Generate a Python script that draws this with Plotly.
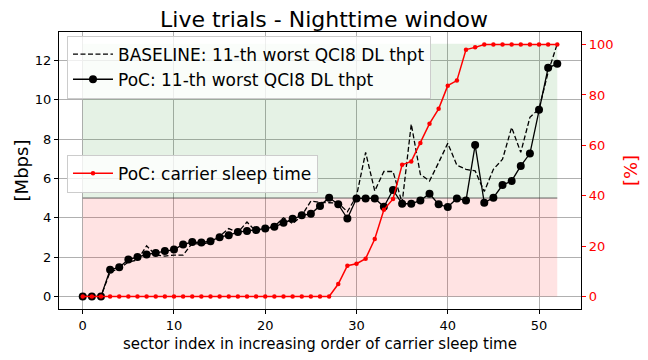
import plotly.graph_objects as go

# sector index (sorted by carrier sleep time)
sector = list(range(53))

# 11-th worst QCI8 DL throughput [Mbps]
baseline_thpt = [0, 0, 0, 1.25, 1.4, 1.75, 1.85, 2.57, 2.1, 2.05,
                 2.1, 2.1, 2.7, 2.65, 2.75, 3.05, 3.45, 3.25, 3.78, 3.3,
                 3.5, 3.55, 4.0, 3.7, 4.1, 4.85, 4.78, 4.76, 4.75, 4.3,
                 5.1, 7.32, 5.36, 6.35, 6.35, 4.75, 8.76, 6.2, 5.87, 6.8,
                 7.78, 6.67, 6.46, 6.38, 5.33, 6.46, 6.97, 8.59, 7.32, 9.1,
                 9.53, 11.4, 12.84]
poc_thpt = [0, 0, 0, 1.35, 1.48, 1.87, 2.0, 2.13, 2.21, 2.31,
            2.38, 2.64, 2.76, 2.74, 2.81, 3.01, 3.11, 3.27, 3.32, 3.37,
            3.45, 3.54, 3.74, 3.95, 4.12, 4.2, 4.59, 5.02, 4.68, 3.96,
            4.98, 4.98, 4.98, 4.56, 5.41, 4.71, 4.71, 4.88, 5.22, 4.68,
            4.54, 4.98, 4.88, 7.69, 4.76, 5.02, 5.66, 5.87, 6.63, 7.26,
            9.49, 11.62, 11.82]

# carrier sleep time [%]
sleep_time = [0] * 28 + [4.9, 12.2, 13.0, 15.0, 22.8, 34.4, 38.7, 52.3,
                         53.6, 60.9, 68.6, 74.5, 83.7, 85.7, 98.0, 98.9] + [100] * 9

threshold = 5  # Mbps

FONT = "DejaVu Sans"

fig = go.Figure()

# shaded bands: below / above the threshold
fig.add_trace(go.Scatter(x=sector, y=[0] * len(sector), mode="lines",
                         line=dict(width=0), showlegend=False, hoverinfo="skip"))
fig.add_trace(go.Scatter(x=sector, y=[threshold] * len(sector), mode="lines",
                         fill="tonexty", fillcolor="rgba(255,0,0,0.11)",
                         line=dict(color="rgba(60,60,60,0.8)", width=1),
                         showlegend=False, hoverinfo="skip"))
fig.add_trace(go.Scatter(x=sector, y=[max(baseline_thpt)] * len(sector), mode="lines",
                         fill="tonexty", fillcolor="rgba(0,128,0,0.1)",
                         line=dict(width=0), showlegend=False, hoverinfo="skip"))

fig.add_trace(go.Scatter(x=sector, y=baseline_thpt, mode="lines",
                         name="BASELINE: 11-th worst QCI8 DL thpt",
                         line=dict(color="black", width=1.3, dash="5px,2.5px"),
                         legend="legend"))
fig.add_trace(go.Scatter(x=sector, y=poc_thpt, mode="lines+markers",
                         name="PoC: 11-th worst QCI8 DL thpt",
                         line=dict(color="black", width=1.3),
                         marker=dict(color="black", size=8),
                         legend="legend"))
fig.add_trace(go.Scatter(x=sector, y=sleep_time, mode="lines+markers",
                         name="PoC: carrier sleep time", yaxis="y2",
                         line=dict(color="red", width=1.5),
                         marker=dict(color="red", size=4.5),
                         legend="legend2"))

# the page body adds an 8px offset, so the figure is 8px smaller than the window
fig.update_layout(
    width=640, height=352,
    margin=dict(l=51, r=67, t=24, b=51),
    plot_bgcolor="white", paper_bgcolor="white",
    font=dict(family=FONT, color="black", size=13),
    title=dict(text="Live trials - Nighttime window", x=0.4938, xanchor="center",
               y=0.969, yanchor="middle", font=dict(size=22)),
    xaxis=dict(range=[-2.6, 54.6], tickvals=[0, 10, 20, 30, 40, 50],
               showgrid=True, gridcolor="#b0b0b0", gridwidth=0.8,
               showline=True, linecolor="black", linewidth=1.2, mirror=True,
               ticks="outside", ticklen=4, tickcolor="black", zeroline=False,
               automargin=False,
               title=dict(text="sector index in increasing order of carrier sleep time",
                          font=dict(size=15), standoff=6),
               tickfont=dict(size=13)),
    yaxis=dict(range=[-0.64, 13.44], tickvals=[0, 2, 4, 6, 8, 10, 12],
               showgrid=True, gridcolor="#b0b0b0", gridwidth=0.8,
               showline=True, linecolor="black", linewidth=1.2,
               ticks="outside", ticklen=4, tickcolor="black", zeroline=False,
               automargin=False,
               title=dict(text="[Mbps]", font=dict(size=18), standoff=1),
               tickfont=dict(size=13)),
    yaxis2=dict(range=[-5, 105], tickvals=[0, 20, 40, 60, 80, 100],
                overlaying="y", side="right", showgrid=False, zeroline=False,
                showline=True, linecolor="black", linewidth=1.2,
                ticks="outside", ticklen=4, tickcolor="red", automargin=False,
                tickfont=dict(size=13, color="red"),
                title=dict(text="[%]", font=dict(size=18, color="red"), standoff=11)),
    legend=dict(x=0.0153, y=0.987, xanchor="left", yanchor="top",
                traceorder="normal",
                bgcolor="rgba(255,255,255,0.8)", bordercolor="#cccccc", borderwidth=1,
                font=dict(size=17), itemwidth=40),
    legend2=dict(x=0.0153, y=0.557, xanchor="left", yanchor="top",
                 bgcolor="rgba(255,255,255,0.8)", bordercolor="#cccccc", borderwidth=1,
                 font=dict(size=17), itemwidth=40),
)

fig.write_html("out.html")
